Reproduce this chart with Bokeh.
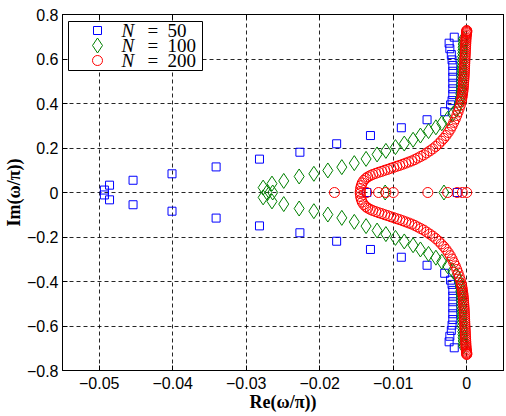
from bokeh.embed import file_html
from bokeh.models import FixedTicker, Label, LinearAxis, Range1d
from bokeh.plotting import figure
from bokeh.resources import INLINE

# Eigenvalues (upper half-plane branch; the spectrum is conjugate-symmetric)
# plus the purely real ones, for three grid sizes.
n50_up_re = [-0.0493, -0.0486, -0.0454, -0.0401, -0.0341, -0.0282, -0.0227,
             -0.0177, -0.0131, -0.0089, -0.0054, -0.0030, -0.0022,
             -0.0020, -0.0019, -0.0019, -0.0019, -0.0019, -0.0019, -0.0019,
             -0.0020, -0.0021, -0.0023, -0.0024, -0.0017]
n50_up_im = [0.011, 0.033, 0.055, 0.084, 0.115, 0.150, 0.181, 0.219, 0.256,
             0.291, 0.327, 0.363, 0.394, 0.413, 0.440, 0.466, 0.491, 0.518,
             0.545, 0.571, 0.596, 0.620, 0.646, 0.671, 0.698]
n50_real = [-0.0136, -0.0013]

n100_up_re = [-0.0277, -0.0265, -0.0249, -0.0228, -0.0208, -0.0189, -0.0170,
              -0.0153, -0.0137, -0.0122, -0.0110, -0.0097, -0.0085, -0.0073,
              -0.0063, -0.0052, -0.0042, -0.0034, -0.0026, -0.0019, -0.0014,
              -0.0010,
              -0.00090, -0.00086, -0.00082, -0.00079, -0.00076, -0.00074,
              -0.00072, -0.00070, -0.00068, -0.00066, -0.00064, -0.00062,
              -0.00060, -0.00058, -0.00056, -0.00054, -0.00052, -0.00050,
              -0.00048, -0.00046, -0.00044]
n100_up_im = [0.022, 0.040, 0.052, 0.072, 0.084, 0.099, 0.114, 0.132, 0.151,
              0.171, 0.187, 0.204, 0.220, 0.237, 0.256, 0.276, 0.293, 0.311,
              0.331, 0.352, 0.373, 0.399,
              0.415, 0.429, 0.443, 0.457, 0.471, 0.485, 0.499, 0.513, 0.527,
              0.541, 0.555, 0.569, 0.583, 0.597, 0.611, 0.625, 0.639, 0.653,
              0.667, 0.680, 0.691]
n100_real = [-0.0272, -0.0264, -0.0111, -0.0031]

n200_up_re = [-0.01449, -0.01445, -0.01435, -0.01422, -0.01401, -0.01374,
              -0.01347, -0.01313, -0.01279, -0.01238, -0.01197, -0.01156,
              -0.01116, -0.01075, -0.01034, -0.00993, -0.00952, -0.00912,
              -0.00871, -0.00830, -0.00789, -0.00748, -0.00707, -0.00667,
              -0.00626, -0.00585, -0.00544, -0.00503, -0.00463, -0.00422,
              -0.00381, -0.00347, -0.00313, -0.00282, -0.00252, -0.00224,
              -0.00200, -0.00177, -0.00156, -0.00136, -0.00118, -0.00102,
              -0.00087,
              -0.00075, -0.00070, -0.00065, -0.00061, -0.00057, -0.00053,
              -0.00050, -0.00047, -0.00045, -0.00043, -0.00041, -0.00039,
              -0.00037, -0.00035, -0.00034, -0.00032, -0.00031, -0.00030,
              -0.00029, -0.00027, -0.00026, -0.00025, -0.00023, -0.00022,
              -0.00020, -0.00019, -0.00018, -0.00016, -0.00015, -0.00013,
              -0.00012, -0.00011, -0.00010, -0.00008, -0.00005, -0.00003,
              -0.00001, 0.0, 0.0, 0.0]
n200_up_im = [0.0045, 0.018, 0.031, 0.043, 0.054, 0.063, 0.070, 0.076, 0.081,
              0.086, 0.091, 0.095, 0.100, 0.104, 0.109, 0.113, 0.118, 0.122,
              0.127, 0.132, 0.137, 0.142, 0.148, 0.155, 0.162, 0.169, 0.178,
              0.187, 0.196, 0.207, 0.219, 0.231, 0.243, 0.256, 0.270, 0.284,
              0.299, 0.315, 0.330, 0.346, 0.362, 0.378, 0.393,
              0.409, 0.418, 0.427, 0.436, 0.445, 0.454, 0.463, 0.472, 0.481,
              0.490, 0.499, 0.508, 0.517, 0.526, 0.535, 0.544, 0.553, 0.562,
              0.571, 0.580, 0.589, 0.598, 0.607, 0.616, 0.625, 0.634, 0.643,
              0.652, 0.661, 0.670, 0.679, 0.687, 0.694, 0.701, 0.708, 0.714,
              0.719, 0.723, 0.726, 0.728]
n200_real = [-0.0180, -0.0136, -0.0120, -0.0110, -0.0100, -0.0053, -0.0026,
             -0.0013, -0.0006, 0.0]

series_n = ["50", "100", "200"]

x_ticks = [-0.05, -0.04, -0.03, -0.02, -0.01, 0.0]
x_tick_labels = ["\u22120.05", "\u22120.04", "\u22120.03", "\u22120.02", "\u22120.01", "0"]
y_ticks = [-0.8, -0.6, -0.4, -0.2, 0.0, 0.2, 0.4, 0.6, 0.8]
y_tick_labels = ["\u22120.8", "\u22120.6", "\u22120.4", "\u22120.2", "0", "0.2", "0.4", "0.6", "0.8"]

x_title = "Re(\u03c9/\u03c0))"
y_title = "Im(\u03c9/\u03c0))"

FRAME_W, FRAME_H = 441, 356


def full_spectrum(up_re, up_im, real):
    """Upper branch, its complex conjugate, then the real eigenvalues."""
    xs = list(up_re) + list(up_re) + list(real)
    ys = list(up_im) + [-v for v in up_im] + [0.0] * len(real)
    return xs, ys


p = figure(width=506, height=416,
           x_range=Range1d(-0.055, 0.005), y_range=Range1d(-0.8, 0.8),
           output_backend="svg", toolbar_location=None,
           min_border_left=62, min_border_right=3,
           min_border_top=14, min_border_bottom=46)
# Pixel-space ranges over the plot frame, used to lay out the legend box.
p.extra_x_ranges = {"px": Range1d(0, FRAME_W)}
p.extra_y_ranges = {"px": Range1d(0, FRAME_H)}

p.background_fill_color = "white"
p.border_fill_color = "white"
p.outline_line_color = "black"
p.outline_line_width = 1

TICK_FONT = "Liberation Sans"
SERIF = "Liberation Serif"

for ax in (p.xaxis[0], p.yaxis[0]):
    ax.axis_line_color = "black"
    ax.major_tick_in = 5
    ax.major_tick_out = 0
    ax.minor_tick_line_color = None
    ax.major_label_text_font = TICK_FONT
    ax.major_label_text_font_size = "16px"
    ax.major_label_text_color = "black"
    ax.axis_label_text_font = SERIF
    ax.axis_label_text_font_size = "18px"
    ax.axis_label_text_font_style = "bold"
    ax.axis_label_text_color = "black"

p.xaxis[0].ticker = FixedTicker(ticks=x_ticks)
p.xaxis[0].major_label_overrides = dict(zip(x_ticks, x_tick_labels))
p.xaxis[0].major_label_standoff = 6
p.xaxis[0].axis_label = x_title
p.xaxis[0].axis_label_standoff = 0

p.yaxis[0].ticker = FixedTicker(ticks=y_ticks)
p.yaxis[0].major_label_overrides = dict(zip(y_ticks, y_tick_labels))
p.yaxis[0].major_label_standoff = 4
p.yaxis[0].axis_label = y_title
p.yaxis[0].axis_label_standoff = 0

# Mirror axes on top and right: inward ticks only, no labels.
for place, ticks in (("above", x_ticks), ("right", y_ticks)):
    mirror = LinearAxis(ticker=FixedTicker(ticks=ticks), major_tick_in=5,
                        major_tick_out=0, minor_tick_line_color=None,
                        major_label_text_font_size="0px",
                        major_label_text_color=None, major_label_standoff=0,
                        axis_line_color="black")
    p.add_layout(mirror, place)

p.xgrid.ticker = FixedTicker(ticks=x_ticks)
p.ygrid.ticker = FixedTicker(ticks=y_ticks)
for g in (p.xgrid[0], p.ygrid[0]):
    g.grid_line_color = "black"
    g.grid_line_dash = "4 3"
    g.grid_line_width = 1
    g.grid_line_alpha = 0.85

x50, y50 = full_spectrum(n50_up_re, n50_up_im, n50_real)
x100, y100 = full_spectrum(n100_up_re, n100_up_im, n100_real)
x200, y200 = full_spectrum(n200_up_re, n200_up_im, n200_real)

styles = [dict(marker="square", size=8, line_color="#0000ff"),
          dict(marker="diamond", size=15, line_color="#008000"),
          dict(marker="circle", size=10, line_color="#ff0000")]

for (xs, ys), st in zip(((x50, y50), (x100, y100), (x200, y200)), styles):
    p.scatter(xs, ys, fill_color=None, line_width=1, **st)

# Legend: boxed, top-left corner of the frame (pixel coordinates).
p.quad(left=6, right=140, bottom=FRAME_H - 56, top=FRAME_H - 7,
       fill_color="white", line_color="black", line_width=1,
       x_range_name="px", y_range_name="px")
row_y = [FRAME_H - 16, FRAME_H - 31, FRAME_H - 46]
for yy, st, n in zip(row_y, styles, series_n):
    p.scatter([35], [yy], fill_color=None, line_width=1,
              x_range_name="px", y_range_name="px", **st)
    p.add_layout(Label(x=59, y=yy, x_units="screen", y_units="screen",
                       text="N", text_font=SERIF, text_font_size="19px",
                       text_font_style="italic", text_baseline="middle",
                       text_color="black"))
    p.add_layout(Label(x=85, y=yy, x_units="screen", y_units="screen",
                       text="=", text_font=SERIF, text_font_size="19px",
                       text_baseline="middle", text_color="black"))
    p.add_layout(Label(x=105, y=yy, x_units="screen", y_units="screen",
                       text=n, text_font=SERIF, text_font_size="19px",
                       text_baseline="middle", text_color="black"))

open("out.html", "w").write(file_html(p, INLINE))
